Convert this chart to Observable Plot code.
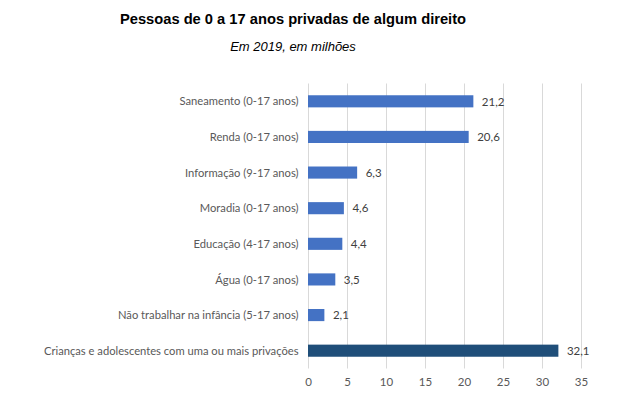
<!DOCTYPE html>
<html><head><meta charset="utf-8">
<script src="https://cdn.jsdelivr.net/npm/d3@7"></script>
<script src="https://cdn.jsdelivr.net/npm/@observablehq/plot@0.6"></script>
<style>
body{margin:0;background:#fff;width:626px;height:409px;overflow:hidden;}
#wrap{position:relative;width:626px;height:409px;}
#title{position:absolute;top:11px;left:0;width:586px;text-align:center;font:bold 14.7px "Liberation Sans",Arial,sans-serif;color:#000;}
#sub{position:absolute;top:39px;left:0;width:586px;text-align:center;font:italic 13px "Liberation Sans",Arial,sans-serif;color:#000;}
#chart{position:absolute;top:70px;left:0;}
</style></head>
<body><div id="wrap">
<div id="title">Pessoas de 0 a 17 anos privadas de algum direito</div>
<div id="sub">Em 2019, em milhões</div>
<div id="chart"></div>
</div>
<script>
const categories = [
  "Saneamento (0-17 anos)",
  "Renda (0-17 anos)",
  "Informação (9-17 anos)",
  "Moradia (0-17 anos)",
  "Educação (4-17 anos)",
  "Água (0-17 anos)",
  "Não trabalhar na infância (5-17 anos)",
  "Crianças e adolescentes com uma ou mais privações"
];
const values = [21.2, 20.6, 6.3, 4.6, 4.4, 3.5, 2.1, 32.1];
const groups = ["dim","dim","dim","dim","dim","dim","dim","total"];
const xTicks = [0, 5, 10, 15, 20, 25, 30, 35];

const data = categories.map((c, i) => ({cat: c, v: values[i], g: groups[i]}));
const fmt = v => v.toFixed(1).replace(".", ",");

const chart = Plot.plot({
  width: 626,
  height: 339,
  marginTop: 13.5,
  marginBottom: 40.5,
  marginLeft: 308,
  marginRight: 45,
  style: {fontFamily: "Lato, 'Open Sans', sans-serif", fontSize: "11px", color: "#595959", background: "#fff"},
  x: {domain: [0, 35], ticks: xTicks, label: null, grid: false},
  y: {domain: categories, label: null, paddingInner: 0.66, paddingOuter: 0.33, round: false},
  color: {domain: ["dim", "total"], range: ["#4472C4", "#1F4E79"]},
  marks: [
    Plot.gridX(xTicks, {stroke: "#d9d9d9", strokeOpacity: 1, strokeWidth: 1}),
    Plot.barX(data, {x: "v", y: "cat", fill: "g"}),
    Plot.text(data, {x: "v", y: "cat", text: d => fmt(d.v), textAnchor: "start", dx: 8, fill: "#404040", fontSize: 11.5}),
    Plot.axisX({ticks: xTicks, tickSize: 0, tickPadding: 9, label: null, fontSize: 11.5, tickFormat: d => String(d)}),
    Plot.axisY({tickSize: 0, tickPadding: 10, label: null, fontSize: 11.2})
  ]
});
document.getElementById("chart").appendChild(chart);
</script>
</body></html>
